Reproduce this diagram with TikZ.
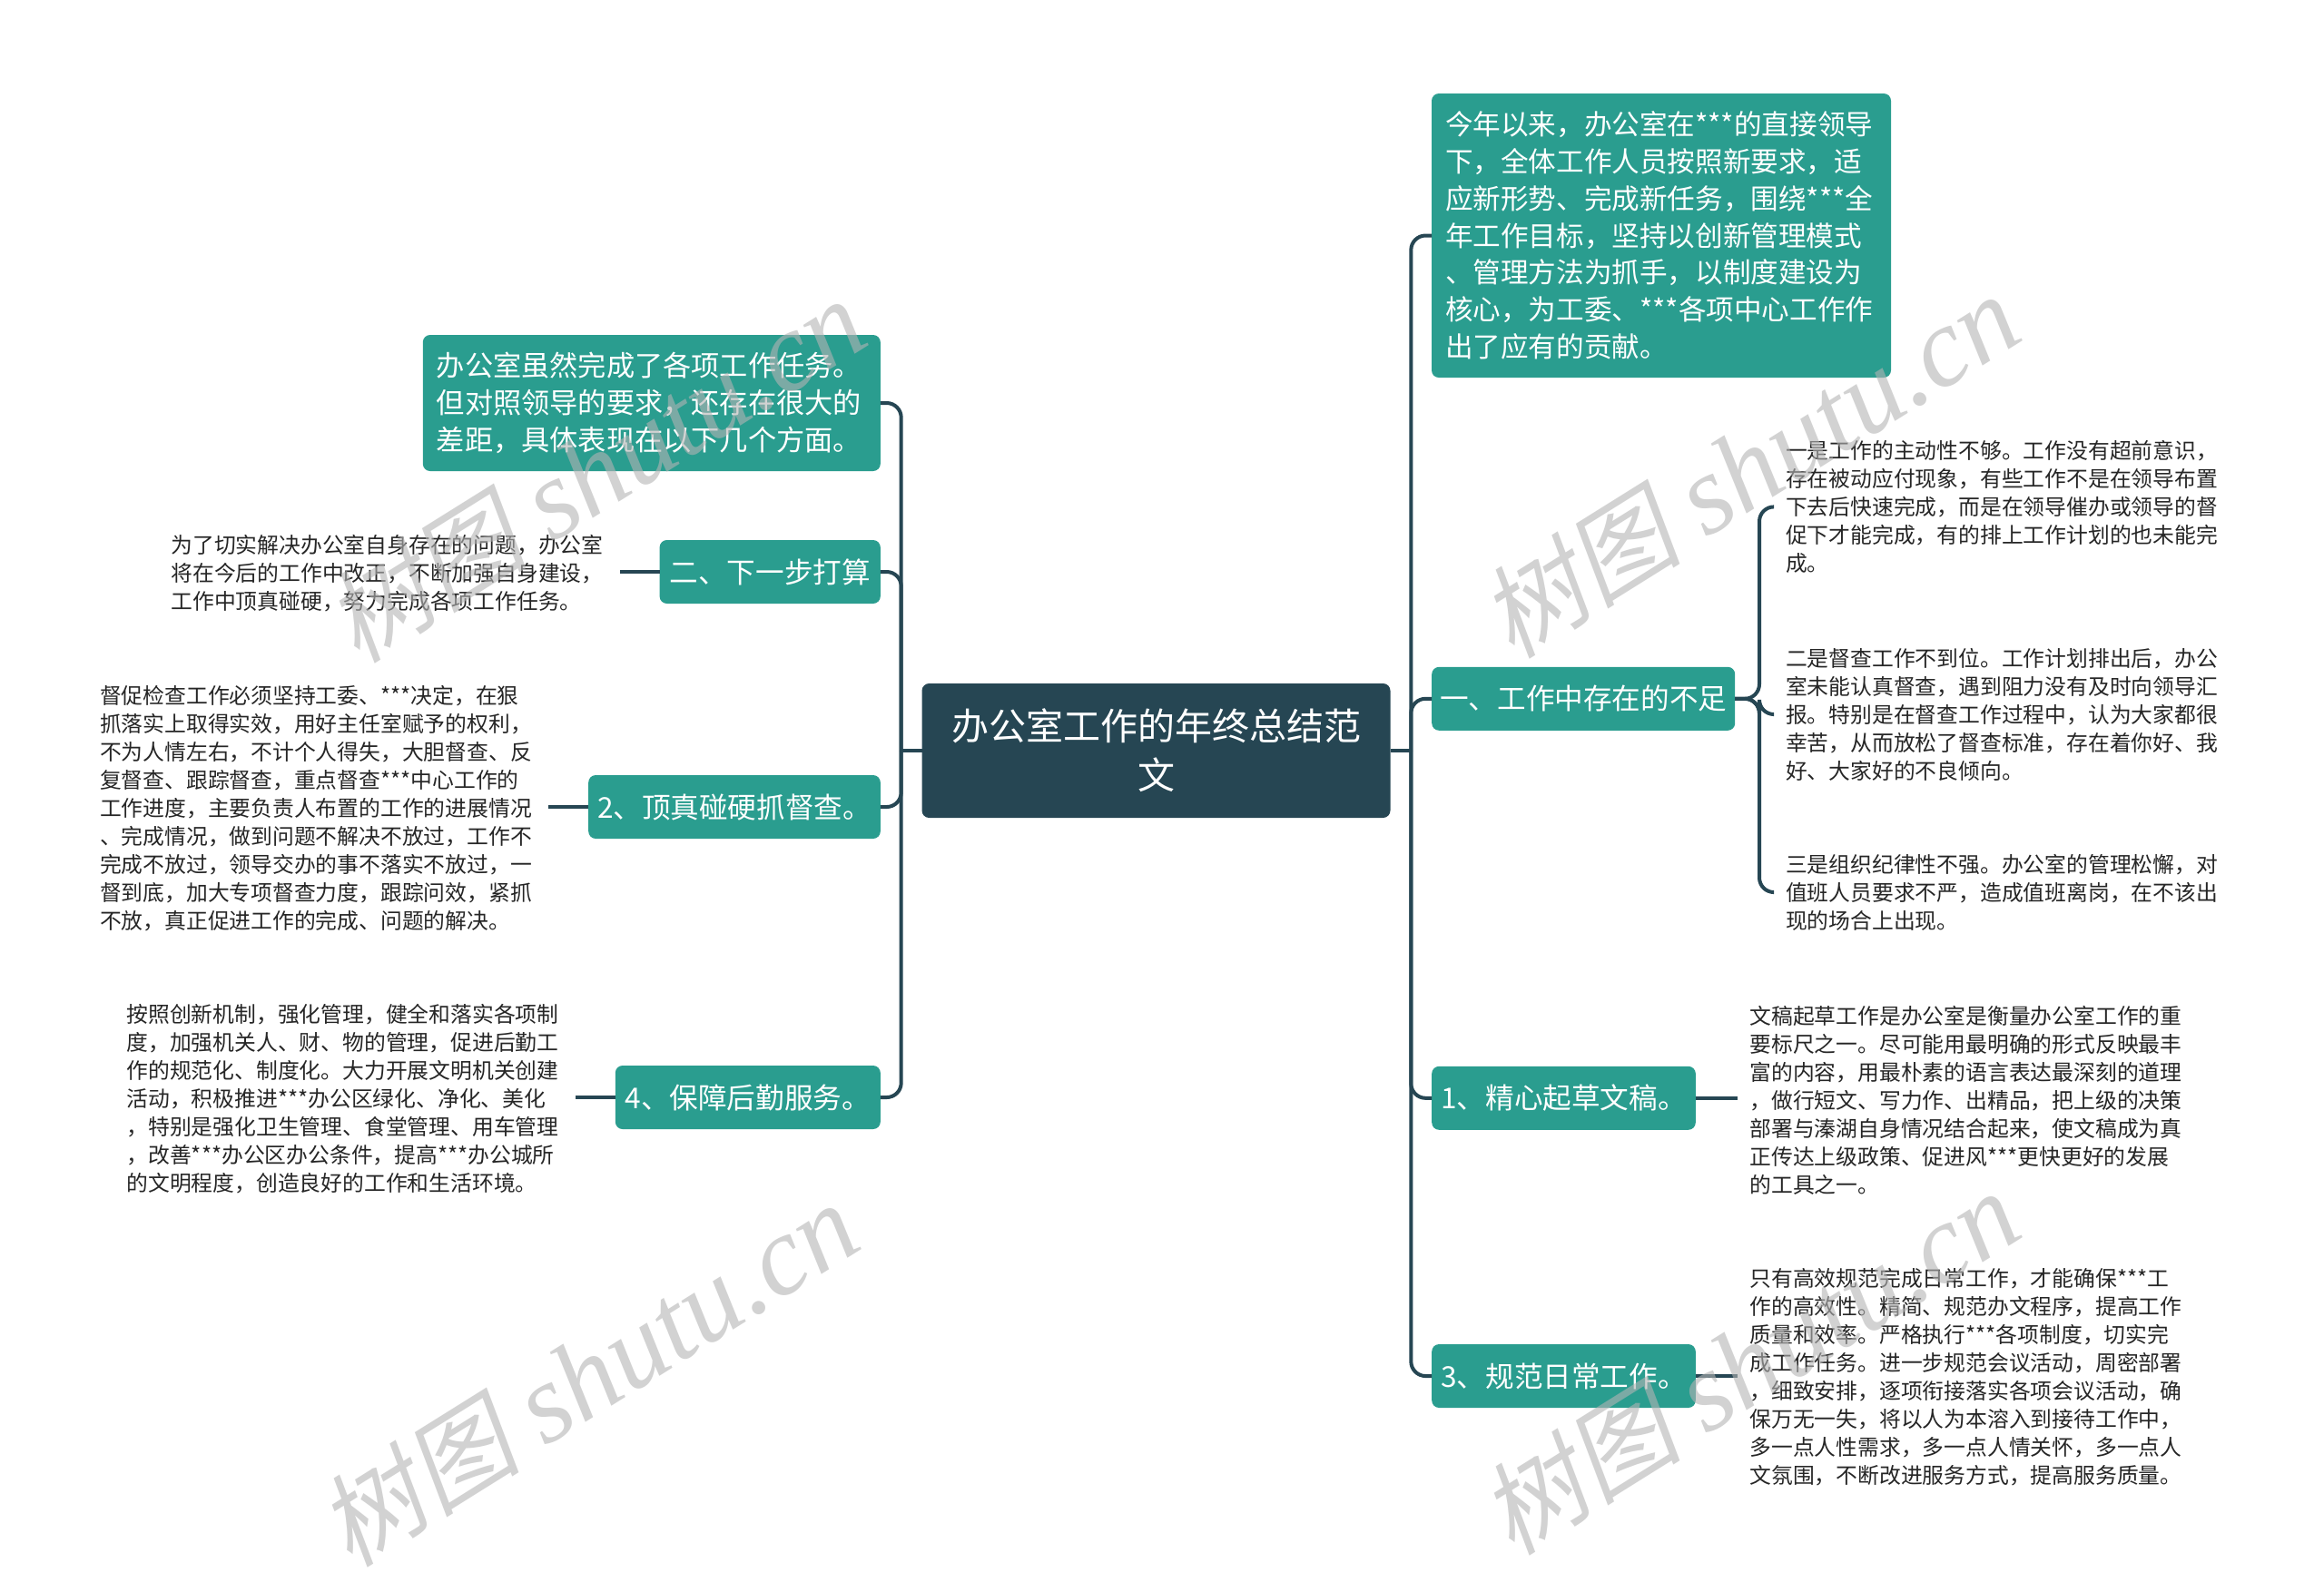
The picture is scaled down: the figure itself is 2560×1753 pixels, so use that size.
\documentclass[tikz,border=0pt]{standalone}
\usepackage{fontspec}
\setmainfont{Noto Sans CJK SC}
\newfontfamily\wmcjk{Noto Sans CJK SC}[FakeSlant=0.2]
\newfontfamily\wmlat{Liberation Serif}
\definecolor{boxteal}{HTML}{2A9D8F}
\definecolor{centerc}{HTML}{264653}
\definecolor{linec}{HTML}{264653}
\definecolor{wmgray}{RGB}{180,180,180}
\begin{document}
\begin{tikzpicture}[x=0.5pt,y=-0.5pt,
  every node/.style={inner sep=0pt, outer sep=0pt},
  centerbox/.style={fill=centerc, rounded corners=4pt, text=white, align=center,
    font=\fontsize{20.5}{27}\selectfont, minimum width=258pt, minimum height=74pt},
  tealbox/.style={fill=boxteal, rounded corners=4pt, text=white,
    font=\fontsize{15.8}{20}\selectfont, minimum height=35pt},
  bigbox/.style={fill=boxteal, rounded corners=4pt, text=white, align=left,
    font=\fontsize{15.6}{20.4}\selectfont, inner xsep=7.5pt},
  leaf/.style={text=black!85, align=left, text width=240pt, inner xsep=7pt,
    font=\fontsize{11.9}{15.5}\selectfont},
  conn/.style={draw=linec, line width=2pt, rounded corners=8pt},
  wm/.style={text=wmgray, text opacity=0.6, rotate=32}
]
\fill[white] (0,0) rectangle (2560,1753);
\useasboundingbox (0,0) rectangle (2560,1753);

% centre
\node[centerbox] (c) at (1273.5,827) {办公室工作的年终总结范\\文};

% left side
\node[bigbox, anchor=east, text width=237pt, minimum height=75pt] (b1) at (969.8,444)
  {办公室虽然完成了各项工作任务。\\但对照领导的要求，还存在很大的\\差距，具体表现在以下几个方面。};
\node[tealbox, anchor=east, minimum width=121.6pt] (b2) at (969.8,630) {二、下一步打算};
\node[tealbox, anchor=east, minimum width=160.8pt] (b3) at (969.8,889) {2、顶真碰硬抓督查。};
\node[tealbox, anchor=east, minimum width=146pt] (b4) at (969.8,1209) {4、保障后勤服务。};

\node[leaf, anchor=east] (l1) at (682.5,631.9)
  {为了切实解决办公室自身存在的问题，办公室\\将在今后的工作中改正，不断加强自身建设，\\工作中顶真碰硬，努力完成各项工作任务。};
\node[leaf, anchor=east] (l2) at (604,890.5)
  {督促检查工作必须坚持工委、***决定，在狠\\抓落实上取得实效，用好主任室赋予的权利，\\不为人情左右，不计个人得失，大胆督查、反\\复督查、跟踪督查，重点督查***中心工作的\\工作进度，主要负责人布置的工作的进展情况\\、完成情况，做到问题不解决不放过，工作不\\完成不放过，领导交办的事不落实不放过，一\\督到底，加大专项督查力度，跟踪问效，紧抓\\不放，真正促进工作的完成、问题的解决。};
\node[leaf, anchor=east] (l4) at (633.5,1210.7)
  {按照创新机制，强化管理，健全和落实各项制\\度，加强机关人、财、物的管理，促进后勤工\\作的规范化、制度化。大力开展文明机关创建\\活动，积极推进***办公区绿化、净化、美化\\，特别是强化卫生管理、食堂管理、用车管理\\，改善***办公区办公条件，提高***办公城所\\的文明程度，创造良好的工作和生活环境。};

% right side
\node[bigbox, anchor=north west, text width=238pt, minimum height=156.5pt,
  font=\fontsize{15.3}{20.4}\selectfont] (r0) at (1577,103)
  {今年以来，办公室在***的直接领导\\下，全体工作人员按照新要求，适\\应新形势、完成新任务，围绕***全\\年工作目标，坚持以创新管理模式\\、管理方法为抓手，以制度建设为\\核心，为工委、***各项中心工作作\\出了应有的贡献。};
\node[tealbox, anchor=west, minimum width=167pt] (r1) at (1577.2,769.8) {一、工作中存在的不足};
\node[tealbox, anchor=west, minimum width=145.3pt] (r2) at (1577.2,1209.8) {1、精心起草文稿。};
\node[tealbox, anchor=west, minimum width=145.3pt] (r3) at (1577.2,1516) {3、规范日常工作。};

\node[leaf, anchor=west] (s1) at (1953,558.4)
  {一是工作的主动性不够。工作没有超前意识，\\存在被动应付现象，有些工作不是在领导布置\\下去后快速完成，而是在领导催办或领导的督\\促下才能完成，有的排上工作计划的也未能完\\成。};
\node[leaf, anchor=west] (s2) at (1953,787)
  {二是督查工作不到位。工作计划排出后，办公\\室未能认真督查，遇到阻力没有及时向领导汇\\报。特别是在督查工作过程中，认为大家都很\\幸苦，从而放松了督查标准，存在着你好、我\\好、大家好的不良倾向。};
\node[leaf, anchor=west] (s3) at (1953,983)
  {三是组织纪律性不强。办公室的管理松懈，对\\值班人员要求不严，造成值班离岗，在不该出\\现的场合上出现。};
\node[leaf, anchor=west] (t2) at (1913.5,1212)
  {文稿起草工作是办公室是衡量办公室工作的重\\要标尺之一。尽可能用最明确的形式反映最丰\\富的内容，用最朴素的语言表达最深刻的道理\\，做行短文、写力作、出精品，把上级的决策\\部署与溱湖自身情况结合起来，使文稿成为真\\正传达上级政策、促进风***更快更好的发展\\的工具之一。};
\node[leaf, anchor=west] (t3) at (1913.5,1517)
  {只有高效规范完成日常工作，才能确保***工\\作的高效性。精简、规范办文程序，提高工作\\质量和效率。严格执行***各项制度，切实完\\成工作任务。进一步规范会议活动，周密部署\\，细致安排，逐项衔接落实各项会议活动，确\\保万无一失，将以人为本溶入到接待工作中，\\多一点人性需求，多一点人情关怀，多一点人\\文氛围，不断改进服务方式，提高服务质量。};

% connectors
\coordinate (lj) at (992.7,827);
\coordinate (rj) at (1554.3,827);
\coordinate (sj) at (1938,769.8);
\draw[conn] (c.west) -- (lj);
\draw[conn] (c.east) -- (rj);
\foreach \n in {b1,b2,b3,b4} \draw[conn] (lj) |- (\n.east);
\foreach \n in {r0,r1,r2,r3} \draw[conn] (rj) |- (\n.west);
\draw[conn] (b2.west) -- (b2.west -| l1.east);
\draw[conn] (b3.west) -- (b3.west -| l2.east);
\draw[conn] (b4.west) -- (b4.west -| l4.east);
\draw[conn] (r2.east) -- (r2.east -| t2.west);
\draw[conn] (r3.east) -- (r3.east -| t3.west);
\foreach \n in {s1,s2,s3} \draw[conn] (r1.east) -- (sj) |- (\n.west);

% watermarks
\foreach \p/\q in {656/519, 1927/514, 648/1515, 1927/1502}
  \node[wm] at (\p,\q) {{\wmcjk\fontsize{56}{60}\selectfont 树图}\hspace{14pt}{\wmlat\itshape\fontsize{62}{64}\selectfont shutu.cn}};
\end{tikzpicture}
\end{document}
